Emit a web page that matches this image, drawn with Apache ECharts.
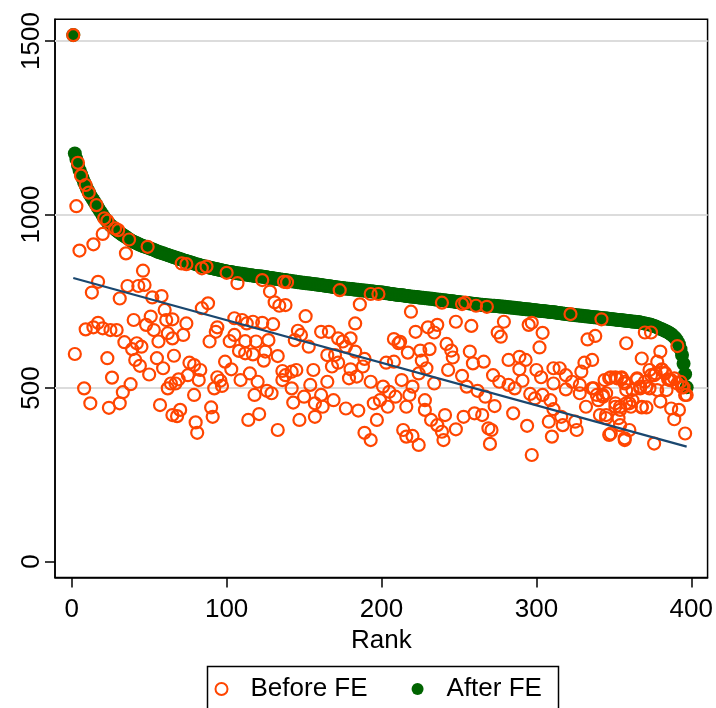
<!DOCTYPE html>
<html>
<head>
<meta charset="utf-8">
<script src="https://cdn.jsdelivr.net/npm/echarts@6/dist/echarts.min.js"></script>
<style>
html,body{margin:0;padding:0;background:#fff;}
#chart{width:716px;height:708px;}
</style>
</head>
<body>
<div id="chart"></div>
<script>
// After FE values, by rank 1..397
const afterFE = [
1517,1176,1160,1143,1128,1116,1105,1093,1083,1073,
1064,1055,1048,1041,1034,1027,1019,1012,1005,998,
991,985,979,974,969,965,961,958,954,950,
947,944,941,938,935,932,929,926,923,921,
919,917,915,913,911,909,908,906,905,903,
901,900,898,896,894,892,891,889,888,886,
885,883,882,880,879,877,876,874,873,871,
870,868,867,866,864,863,862,860,859,857,
856,855,853,852,851,850,849,848,847,846,
845,844,843,842,841,840,839,838,837,836,
835,834,834,833,832,831,831,830,829,829,
828,827,827,826,825,825,824,823,823,822,
822,821,821,820,820,819,818,817,817,816,
815,815,814,813,813,812,811,811,810,809,
809,808,807,807,806,805,805,804,803,803,
802,802,801,801,800,800,799,798,798,797,
797,796,795,795,794,793,793,792,791,791,
790,790,789,788,788,787,787,786,786,785,
785,784,784,783,783,782,782,781,781,780,
780,779,779,778,778,777,777,776,776,775,
775,774,773,773,772,771,771,770,769,769,
768,768,767,767,766,765,765,764,764,763,
763,762,762,761,761,760,760,759,759,758,
758,757,757,756,755,755,754,754,753,753,
752,752,751,751,750,750,749,748,748,747,
747,746,746,745,745,744,744,743,743,742,
742,741,741,740,740,739,739,738,738,738,
737,737,737,736,736,735,735,735,734,734,
733,733,732,732,731,731,730,730,729,729,
728,728,727,727,726,726,725,725,724,724,
723,723,722,722,721,721,720,720,719,719,
718,718,717,716,716,715,715,714,713,713,
712,712,711,711,710,710,709,709,708,708,
707,707,706,706,705,705,704,704,703,703,
702,702,701,701,700,700,699,699,698,698,
697,697,696,696,695,695,694,694,693,693,
692,692,691,691,690,690,689,688,687,686,
685,684,683,682,680,679,677,675,673,671,
669,667,665,663,661,658,655,651,647,642,
635,626,612,595,570,540,502
];

// Before FE values as [rank, value]
const beforeFE = [
[1,1517],[4,1149],[6,1112],[9,1085],[11,1063],[16,1027],[21,989],[23,982],[28,960],[30,955],[37,928],[49,907],
[3,1024],[20,944],[14,914],[5,896],[35,888],[46,838],[17,806],[13,775],[36,794],[43,794],[47,797],[31,758],[52,761],[58,765],
[40,696],[9,669],[14,675],[17,688],[20,672],[25,667],[29,667],[48,682],[51,706],[53,667],[34,632],[39,612],[42,629],[45,619],
[56,634],[60,725],[61,696],[2,598],[23,586],[41,581],[44,564],[55,586],[59,557],[50,539],[26,530],[8,499],[38,511],[33,488],
[12,456],[24,443],[31,456],[57,451],[64,513],[65,422],
[71,859],[74,857],[84,845],[87,850],[100,832],[107,802],[123,811],[137,806],
[128,778],[131,747],[134,737],[84,730],[88,744],[74,686],[72,653],[65,698],[94,675],[93,662],[89,634],[102,635],[105,701],
[110,696],[113,686],[117,691],[123,688],[130,684],[105,653],[112,635],[119,634],[127,638],[108,607],[112,600],[117,597],
[125,605],[133,592],[124,579],[99,576],[62,658],[65,643],[66,593],[76,573],[79,566],[83,552],[75,537],[82,523],[69,525],
[67,513],[62,499],[79,480],[94,531],[96,521],[97,506],[92,499],[103,554],[109,523],[115,542],[120,518],[126,492],[129,485],
[118,480],[136,549],[136,523],[70,437],[68,419],[90,444],[91,417],[80,401],[81,371],[114,408],[121,425],[133,379],
[139,805],[173,782],[193,771],[198,771],
[138,739],[186,741],[151,707],[183,686],[146,665],[148,653],[144,638],[153,619],[161,662],[166,662],[172,643],[175,634],
[180,643],[177,619],[165,595],[170,595],[183,605],[189,584],[208,641],[211,629],[172,573],[203,573],[208,576],[138,537],
[142,547],[145,552],[156,552],[168,562],[180,554],[188,562],[142,499],[154,509],[165,518],[179,528],[184,533],[193,518],
[201,504],[205,489],[150,475],[161,480],[169,465],[157,456],[162,446],[143,458],[177,441],[185,435],[195,456],[199,465],
[204,446],[209,475],[147,408],[157,417],[197,408],[189,371],[193,350],
[239,746],[252,742],[254,746],[261,737],[268,734],
[219,720],[222,662],[230,675],[236,682],[234,660],[248,691],[258,679],[279,691],[275,660],[277,648],[212,633],[217,602],
[225,608],[231,612],[242,627],[245,608],[246,588],[257,605],[259,571],[266,576],[226,579],[229,557],[224,542],[213,523],
[220,504],[218,480],[234,513],[243,552],[252,535],[255,504],[262,492],[267,475],[272,537],[276,518],[282,509],[282,581],
[216,446],[228,465],[228,437],[241,422],[253,417],[260,427],[265,422],[273,448],[232,408],[236,393],[239,374],[240,350],
[248,381],[214,379],[216,360],[220,362],[224,336],[269,384],[271,379],[270,339],
[322,713],[342,698],
[295,682],[297,688],[304,659],[302,617],[333,640],[338,650],[358,629],[289,590],[293,581],[289,554],[300,552],[303,531],
[311,557],[315,557],[311,513],[319,537],[323,518],[328,509],[329,547],[331,573],[336,581],[286,499],[291,521],[296,483],
[299,470],[304,480],[309,465],[319,496],[328,485],[332,446],[336,499],[339,480],[344,523],[347,528],[351,531],[355,528],
[357,513],[345,485],[351,456],[354,446],[341,422],[285,427],[308,403],[311,439],[316,417],[317,393],[326,379],[325,403],
[294,391],[310,360],[347,365],[357,355],[297,307],
[370,660],[374,660],[391,621],
[380,605],[368,585],[378,576],[373,552],[381,552],[383,542],[376,537],[365,525],[367,499],[371,504],[385,525],[387,523],
[391,513],[394,502],[396,480],[362,494],[343,480],[354,437],[361,446],[358,456],[368,446],[380,461],[387,441],[392,437],
[389,410],[345,413],[354,393],[348,369],[357,350],[360,379],[376,340],[396,369],
[348,531],[352,528],[355,531],[357,518],[365,528],[367,504],[370,518],[374,537],[373,499],[377,542],[381,554],[383,544],
[386,523],[389,528],[393,518],[395,502],[397,480],[337,499],[340,465],[343,475],[351,446],[353,413],[345,422],[360,456],
[368,444],[371,444],[358,494],[362,465],[378,494],[384,494]
];

// Linear fit endpoints [rank, value]
const fitLine = [[1,817],[397,331]];

const xTicks = [0,100,200,300,400];
const yTicks = [0,500,1000,1500];
const yGrid = [500,1000,1500];

const FONT = '"Liberation Sans", Arial, sans-serif';
const FS = 26;
const chart = echarts.init(document.getElementById('chart'), null, {renderer:'canvas'});

chart.setOption({
  animation: false,
  backgroundColor: '#fff',
  grid: {
    left: 55, right: 8, top: 19.3, bottom: 130.5,
    show: true, borderColor: '#000', borderWidth: 1.5, backgroundColor: 'transparent'
  },
  xAxis: {
    type: 'value', min: -10.8, max: 410.5,
    splitLine: {show: false},
    axisLine: {show: true, onZero: false, lineStyle: {color: '#000', width: 1.5}},
    axisTick: {show: true, customValues: xTicks, length: 10, lineStyle: {color: '#000', width: 1.5}},
    axisLabel: {customValues: xTicks, margin: 19, fontSize: FS, color: '#000', fontFamily: FONT,
                formatter: v => String(v)},
    name: 'Rank', nameLocation: 'middle', nameGap: 38,
    nameTextStyle: {fontSize: FS, color: '#000', fontFamily: FONT}
  },
  yAxis: {
    type: 'value', min: -46, max: 1562.5,
    splitLine: {show: false},
    axisLine: {show: true, onZero: false, lineStyle: {color: '#000', width: 1.5}},
    axisTick: {show: true, customValues: yTicks, length: 10, lineStyle: {color: '#000', width: 1.5}},
    axisLabel: {customValues: yTicks, margin: 10, rotate: 90, fontSize: FS, color: '#000', fontFamily: FONT,
                formatter: v => String(v)}
  },
  legend: {
    data: ['Before FE', 'After FE'],
    left: 214.5, top: 676, padding: 0,
    itemWidth: 48, itemHeight: 12, itemGap: 44,
    textStyle: {fontSize: FS, color: '#000', fontFamily: FONT},
    selectedMode: false
  },
  graphic: [{
    type: 'rect', left: 205, top: 664, silent: true,
    shape: {width: 351, height: 60},
    style: {fill: 'none', stroke: '#000', lineWidth: 1.5}
  }],
  series: [
    {
      name: 'After FE', type: 'scatter', z: 2,
      symbol: 'circle', symbolSize: 14,
      itemStyle: {color: '#006400', opacity: 1},
      data: afterFE.map((v, i) => [i + 1, v]),
      silent: true,
      markLine: {
        silent: true, z: 1, symbol: ['none', 'none'], label: {show: false},
        lineStyle: {color: '#dcdcdc', width: 2, type: 'solid'},
        data: yGrid.map(v => ({yAxis: v}))
      }
    },
    {
      name: 'Before FE', type: 'scatter', z: 3,
      symbol: 'circle', symbolSize: 12,
      itemStyle: {color: 'rgba(0,0,0,0)', borderColor: '#ff4500', borderWidth: 2.2, opacity: 1},
      data: beforeFE,
      silent: true
    },
    {
      name: 'Fitted', type: 'line', z: 4,
      data: fitLine, showSymbol: false, symbol: 'none',
      lineStyle: {color: '#1a476f', width: 2.2},
      silent: true
    }
  ]
});
</script>
</body>
</html>
